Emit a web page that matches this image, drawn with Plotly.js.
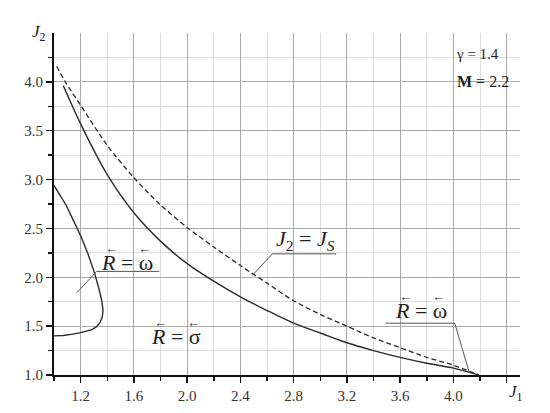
<!DOCTYPE html>
<html>
<head>
<meta charset="utf-8">
<script src="https://cdn.plot.ly/plotly-3.0.1.min.js"></script>
<style>
  body { margin: 0; background: #fff; }
  #chart { width: 550px; height: 413px; }
</style>
</head>
<body>
<div id="chart"></div>
<script>
// J2 = Js boundary (dashed)
const jsX = [1.02, 1.085, 1.2, 1.4, 1.6, 1.8, 2.0, 2.2, 2.4, 2.6, 2.8, 3.0, 3.2, 3.4, 3.6, 3.8, 4.0, 4.19];
const jsY = [4.16, 4.0, 3.76, 3.35, 3.02, 2.74, 2.51, 2.31, 2.12, 1.94, 1.76, 1.62, 1.50, 1.38, 1.28, 1.18, 1.10, 1.0];

// R = sigma boundary (solid)
const sigX = [1.07, 1.2, 1.4, 1.6, 1.8, 2.0, 2.2, 2.4, 2.6, 2.8, 3.0, 3.2, 3.4, 3.6, 3.8, 4.0, 4.19];
const sigY = [3.96, 3.57, 3.05, 2.66, 2.37, 2.14, 1.96, 1.80, 1.66, 1.53, 1.43, 1.33, 1.25, 1.18, 1.12, 1.07, 1.0];

// R = omega loop near the axis
const omX = [1.0, 1.05, 1.09, 1.15, 1.205, 1.255, 1.305, 1.34, 1.36, 1.368, 1.362, 1.345, 1.32, 1.285, 1.24, 1.2, 1.14, 1.07, 1.0];
const omY = [2.94, 2.83, 2.74, 2.57, 2.41, 2.24, 2.04, 1.87, 1.75, 1.66, 1.59, 1.535, 1.495, 1.465, 1.445, 1.433, 1.418, 1.405, 1.40];

const xTicks = [1.2, 1.6, 2.0, 2.4, 2.8, 3.2, 3.6, 4.0, 4.4];
const xTickText = ['1.2', '1.6', '2.0', '2.4', '2.8', '3.2', '3.6', '4.0', ''];
const xMinor = [1.0, 1.4, 1.8, 2.2, 2.6, 3.0, 3.4, 3.8, 4.2];
const yTicks = [1.0, 1.5, 2.0, 2.5, 3.0, 3.5, 4.0];
const yMinor = [1.25, 1.75, 2.25, 2.75, 3.25, 3.75, 4.25];

const serif = '"Liberation Serif", "Times New Roman", Times, serif';
const curveColor = '#2b2b2b';

const traces = [
  { x: jsX, y: jsY, mode: 'lines', line: { color: curveColor, width: 1.3, dash: '5px,3px', shape: 'spline', smoothing: 0.8 }, hoverinfo: 'skip' },
  { x: sigX, y: sigY, mode: 'lines', line: { color: curveColor, width: 1.4, shape: 'spline', smoothing: 0.8 }, hoverinfo: 'skip' },
  { x: omX, y: omY, mode: 'lines', line: { color: curveColor, width: 1.4 }, hoverinfo: 'skip' }
];

// label with left arrows drawn over both symbols
function arrowLabel(text, x, y) {
  const base = { text: text, x: x, y: y, xref: 'x', yref: 'y', showarrow: false,
    font: { family: serif, size: 22, color: '#222' } };
  const arrow = (dx) => ({ text: '\u2190', x: x, y: y, xref: 'x', yref: 'y', showarrow: false,
    xshift: dx, yshift: 14, font: { family: serif, size: 13, color: '#333' } });
  return [base, arrow(-16), arrow(17)];
}

// white patches that hide the grid behind texts
function patch(x0, x1, y0, y1) {
  return { type: 'rect', xref: 'x', yref: 'y', x0: x0, x1: x1, y0: y0, y1: y1,
    fillcolor: '#fff', line: { width: 0 }, layer: 'below' };
}

const leader = { color: '#555', width: 1 };

const layout = {
  width: 550, height: 413,
  margin: { l: 54, r: 30, t: 33, b: 38 },
  paper_bgcolor: '#fff', plot_bgcolor: '#fff',
  showlegend: false,
  font: { family: serif, size: 15, color: '#333' },
  xaxis: {
    range: [1, 4.5], tickvals: xTicks, ticktext: xTickText,
    showline: true, linecolor: '#111', linewidth: 2,
    ticks: 'outside', ticklen: 6, tickcolor: '#111', tickwidth: 1.5,
    showgrid: true, gridcolor: '#aaa', gridwidth: 1, zeroline: false,
    tickfont: { family: serif, size: 15, color: '#333' },
    minor: { tickvals: xMinor, ticks: 'outside', ticklen: 4, tickcolor: '#111', showgrid: true, gridcolor: '#ddd' }
  },
  yaxis: {
    range: [1, 4.5], tickvals: yTicks, tickformat: '.1f',
    showline: true, linecolor: '#111', linewidth: 2,
    ticks: 'outside', ticklen: 6, tickcolor: '#111', tickwidth: 1.5,
    showgrid: true, gridcolor: '#aaa', gridwidth: 1, zeroline: false,
    tickfont: { family: serif, size: 15, color: '#333' },
    minor: { tickvals: yMinor, ticks: 'outside', ticklen: 4, tickcolor: '#111', showgrid: true, gridcolor: '#ddd' }
  },
  shapes: [
    patch(3.92, 4.5, 3.89, 4.5),
    patch(1.37, 1.72, 2.07, 2.30),
    patch(1.74, 2.11, 1.28, 1.54),
    patch(2.64, 3.13, 2.26, 2.50),
    patch(3.56, 3.94, 1.54, 1.82),
    // leader lines
    { type: 'path', xref: 'x', yref: 'y', path: 'M1.17,1.84 L1.32,2.06 L1.79,2.06', line: leader },
    { type: 'path', xref: 'x', yref: 'y', path: 'M2.49,2.02 L2.64,2.24 L3.12,2.24', line: leader },
    { type: 'path', xref: 'x', yref: 'y', path: 'M3.49,1.53 L4.01,1.53 L4.12,1.02', line: leader }
  ],
  annotations: [
    { text: '<i>J</i><sub>2</sub>', xref: 'paper', yref: 'paper', x: -0.013, y: 0.962, xanchor: 'right', yanchor: 'bottom',
      showarrow: false, font: { family: serif, size: 17, color: '#222' } },
    { text: '<i>J</i><sub>1</sub>', xref: 'paper', yref: 'paper', x: 0.991, y: -0.053, xanchor: 'center', yanchor: 'middle',
      showarrow: false, font: { family: serif, size: 17, color: '#222' } },
    { text: '\u03B3 = 1.4', xref: 'x', yref: 'y', x: 4.18, y: 4.29, showarrow: false,
      font: { family: serif, size: 15, color: '#222' } },
    { text: '<b>M</b> = 2.2', xref: 'x', yref: 'y', x: 4.22, y: 4.0, showarrow: false,
      font: { family: serif, size: 16, color: '#222' } },
    { text: '<i>J</i><sub>2</sub> = <i>J<sub>S</sub></i>', x: 2.89, y: 2.38, xref: 'x', yref: 'y', showarrow: false,
      font: { family: serif, size: 22, color: '#222' } }
  ]
    .concat(arrowLabel('<i>R</i> = \u03C9', 1.55, 2.15))
    .concat(arrowLabel('<i>R</i> = \u03C3', 1.92, 1.39))
    .concat(arrowLabel('<i>R</i> = \u03C9', 3.76, 1.66))
};

Plotly.newPlot('chart', traces, layout, { staticPlot: true, displayModeBar: false });
</script>
</body>
</html>
